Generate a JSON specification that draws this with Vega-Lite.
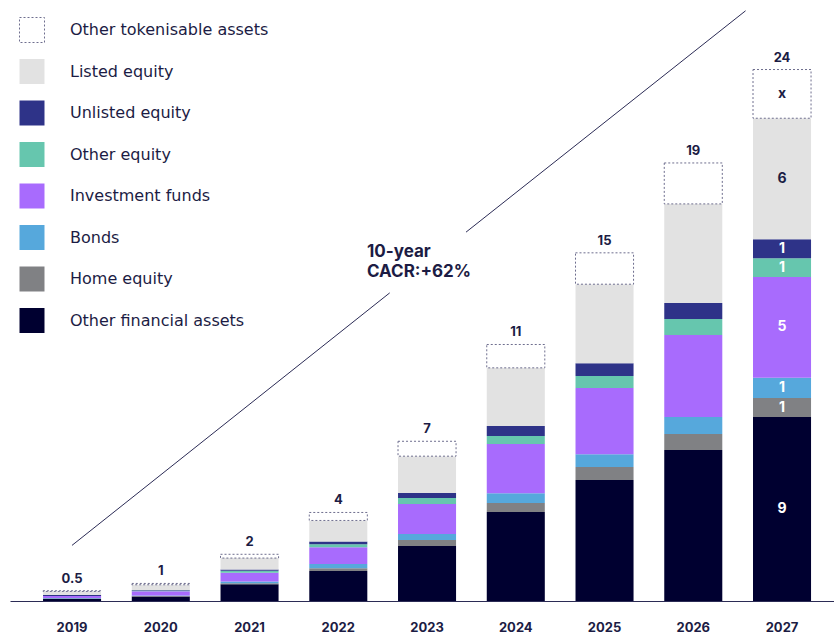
{
  "$schema": "https://vega.github.io/schema/vega-lite/v6.json",
  "autosize": "none",
  "width": 824,
  "height": 600,
  "padding": {"left": 10, "top": 1, "right": 0, "bottom": 33},
  "background": "white",
  "config": {"view": {"stroke": null}, "font": "Inter"},
  "datasets": {
    "parts": [
      {"year": "2019", "Other financial assets": 0.10, "Home equity": 0.01, "Bonds": 0.03, "Investment funds": 0.08, "Other equity": 0.01, "Unlisted equity": 0.04, "Listed equity": 0.16, "Other tokenisable assets": 0.03},
      {"year": "2020", "Other financial assets": 0.20, "Home equity": 0.02, "Bonds": 0.03, "Investment funds": 0.19, "Other equity": 0.03, "Unlisted equity": 0.02, "Listed equity": 0.24, "Other tokenisable assets": 0.06},
      {"year": "2021", "Other financial assets": 0.75, "Home equity": 0.05, "Bonds": 0.08, "Investment funds": 0.39, "Other equity": 0.09, "Unlisted equity": 0.06, "Listed equity": 0.51, "Other tokenisable assets": 0.17},
      {"year": "2022", "Other financial assets": 1.35, "Home equity": 0.12, "Bonds": 0.19, "Investment funds": 0.76, "Other equity": 0.13, "Unlisted equity": 0.13, "Listed equity": 0.94, "Other tokenisable assets": 0.36},
      {"year": "2023", "Other financial assets": 2.47, "Home equity": 0.27, "Bonds": 0.27, "Investment funds": 1.35, "Other equity": 0.27, "Unlisted equity": 0.22, "Listed equity": 1.66, "Other tokenisable assets": 0.67},
      {"year": "2024", "Other financial assets": 4.00, "Home equity": 0.40, "Bonds": 0.44, "Investment funds": 2.22, "Other equity": 0.36, "Unlisted equity": 0.45, "Listed equity": 2.61, "Other tokenisable assets": 1.05},
      {"year": "2025", "Other financial assets": 5.44, "Home equity": 0.58, "Bonds": 0.58, "Investment funds": 2.97, "Other equity": 0.54, "Unlisted equity": 0.58, "Listed equity": 3.55, "Other tokenisable assets": 1.41},
      {"year": "2026", "Other financial assets": 6.79, "Home equity": 0.72, "Bonds": 0.76, "Investment funds": 3.69, "Other equity": 0.72, "Unlisted equity": 0.72, "Listed equity": 4.45, "Other tokenisable assets": 1.84},
      {"year": "2027", "Other financial assets": 8.27, "Home equity": 0.85, "Bonds": 0.91, "Investment funds": 4.53, "Other equity": 0.85, "Unlisted equity": 0.85, "Listed equity": 5.44, "Other tokenisable assets": 2.19}
    ],
    "totals": [
      {"year": "2019", "label": "0.5"},
      {"year": "2020", "label": "1"},
      {"year": "2021", "label": "2"},
      {"year": "2022", "label": "4"},
      {"year": "2023", "label": "7"},
      {"year": "2024", "label": "11"},
      {"year": "2025", "label": "15"},
      {"year": "2026", "label": "19"},
      {"year": "2027", "label": "24"}
    ],
    "seglabels": [
      {"year": "2027", "category": "Other financial assets", "lbl": "9"},
      {"year": "2027", "category": "Home equity", "lbl": "1"},
      {"year": "2027", "category": "Bonds", "lbl": "1"},
      {"year": "2027", "category": "Investment funds", "lbl": "5"},
      {"year": "2027", "category": "Other equity", "lbl": "1"},
      {"year": "2027", "category": "Unlisted equity", "lbl": "1"},
      {"year": "2027", "category": "Listed equity", "lbl": "6"},
      {"year": "2027", "category": "Other tokenisable assets", "lbl": "x"}
    ],
    "trend": [
      {"seg": "a", "lx": 2019.0, "ly": 2.5},
      {"seg": "a", "lx": 2022.58, "ly": 13.85},
      {"seg": "b", "lx": 2023.44, "ly": 16.58},
      {"seg": "b", "lx": 2026.59, "ly": 26.53}
    ],
    "note": [
      {"lx": 2022.324, "ly": 15.69, "txt": ["10-year", "CACR:+62%"]}
    ]
  },
  "resolve": {"scale": {"x": "independent"}},
  "layer": [
    {
      "data": {"name": "parts"},
      "transform": [
        {"fold": ["Other financial assets", "Home equity", "Bonds", "Investment funds", "Other equity", "Unlisted equity", "Listed equity", "Other tokenisable assets"], "as": ["category", "value"]},
        {"calculate": "indexof(['Other financial assets','Home equity','Bonds','Investment funds','Other equity','Unlisted equity','Listed equity','Other tokenisable assets'], datum.category)", "as": "k"}
      ],
      "encoding": {
        "x": {
          "field": "year", "type": "ordinal",
          "scale": {"paddingInner": 0.346, "paddingOuter": 0.3155, "align": 0.59},
          "axis": {"title": null, "labelAngle": 0, "ticks": false, "labelPadding": 20, "labelFont": "Inter", "labelFontWeight": "bold", "labelFontSize": 13, "labelColor": "#1c1c44", "domainColor": "#2b2b55", "domainWidth": 1.2}
        }
      },
      "layer": [
        {
          "mark": {"type": "bar", "strokeWidth": 1},
          "encoding": {
            "y": {"field": "value", "type": "quantitative", "stack": "zero", "scale": {"domain": [0, 26.97], "nice": false}, "axis": null},
            "fill": {
              "field": "category", "type": "nominal",
              "scale": {
                "domain": ["Other tokenisable assets", "Listed equity", "Unlisted equity", "Other equity", "Investment funds", "Bonds", "Home equity", "Other financial assets"],
                "range": ["#ffffff", "#e2e2e2", "#2e3388", "#66c6ae", "#a86bfd", "#56a8dc", "#808184", "#000030"]
              },
              "legend": {
                "orient": "none", "legendX": 9, "legendY": 16, "title": null,
                "symbolType": "square", "symbolSize": 625, "labelFont": "DejaVu Sans", "labelFontSize": 16, "labelColor": "#1c1c44",
                "labelOffset": 25, "rowPadding": 11.5, "padding": 0, "symbolLimit": 0, "labelLimit": 400,
                "symbolStrokeWidth": 1,
                "encoding": {
                  "symbols": {
                    "stroke": {"condition": {"test": "datum.value === 'Other tokenisable assets'", "value": "#6e6e8e"}, "value": "transparent"},
                    "strokeDash": {"condition": {"test": "datum.value === 'Other tokenisable assets'", "value": [2, 2]}, "value": [1, 0]}
                  }
                }
              }
            },
            "stroke": {"condition": {"test": "datum.category === 'Other tokenisable assets'", "value": "#6e6e8e"}, "value": null},
            "strokeDash": {"condition": {"test": "datum.category === 'Other tokenisable assets'", "value": [2, 2]}, "value": [1, 0]},
            "order": {"field": "k", "type": "quantitative"}
          }
        },
        {
          "transform": [
            {"stack": "value", "groupby": ["year"], "sort": [{"field": "k", "order": "ascending"}], "as": ["v0", "v1"]},
            {"filter": "datum.year === '2027'"},
            {"lookup": "category", "from": {"data": {"name": "seglabels"}, "key": "category", "fields": ["lbl"]}},
            {"calculate": "(datum.v0 + datum.v1) / 2", "as": "mid"}
          ],
          "mark": {"type": "text", "font": "Inter", "fontWeight": "bold", "fontSize": 14, "baseline": "middle", "align": "center"},
          "encoding": {
            "y": {"field": "mid", "type": "quantitative", "scale": {"domain": [0, 26.97], "nice": false}, "axis": null},
            "text": {"field": "lbl"},
            "color": {"condition": {"test": "datum.category === 'Listed equity' || datum.category === 'Other tokenisable assets'", "value": "#1c1c44"}, "value": "#ffffff"}
          }
        },
        {
          "transform": [
            {"aggregate": [{"op": "sum", "field": "value", "as": "total"}], "groupby": ["year"]},
            {"lookup": "year", "from": {"data": {"name": "totals"}, "key": "year", "fields": ["label"]}}
          ],
          "mark": {"type": "text", "font": "Inter", "fontWeight": "bold", "fontSize": 13, "baseline": "middle", "align": "center", "dy": -12, "color": "#1c1c44"},
          "encoding": {
            "y": {"field": "total", "type": "quantitative", "scale": {"domain": [0, 26.97], "nice": false}, "axis": null},
            "text": {"field": "label"}
          }
        }
      ]
    },
    {
      "layer": [
        {
          "data": {"name": "trend"},
          "mark": {"type": "line", "color": "#2b2b55", "strokeWidth": 1},
          "encoding": {
            "x": {"field": "lx", "type": "quantitative", "scale": {"domain": [2018.3014, 2027.5864], "nice": false, "zero": false}, "axis": null},
            "y": {"field": "ly", "type": "quantitative", "scale": {"domain": [0, 26.97], "nice": false}, "axis": null},
            "detail": {"field": "seg"}
          }
        },
        {
          "data": {"name": "note"},
          "mark": {"type": "text", "font": "Inter", "fontWeight": "bold", "fontSize": 17, "align": "left", "baseline": "middle", "lineHeight": 20, "color": "#1c1c44"},
          "encoding": {
            "x": {"field": "lx", "type": "quantitative", "scale": {"domain": [2018.3014, 2027.5864], "nice": false, "zero": false}, "axis": null},
            "y": {"field": "ly", "type": "quantitative", "scale": {"domain": [0, 26.97], "nice": false}, "axis": null},
            "text": {"field": "txt"}
          }
        }
      ]
    }
  ]
}
